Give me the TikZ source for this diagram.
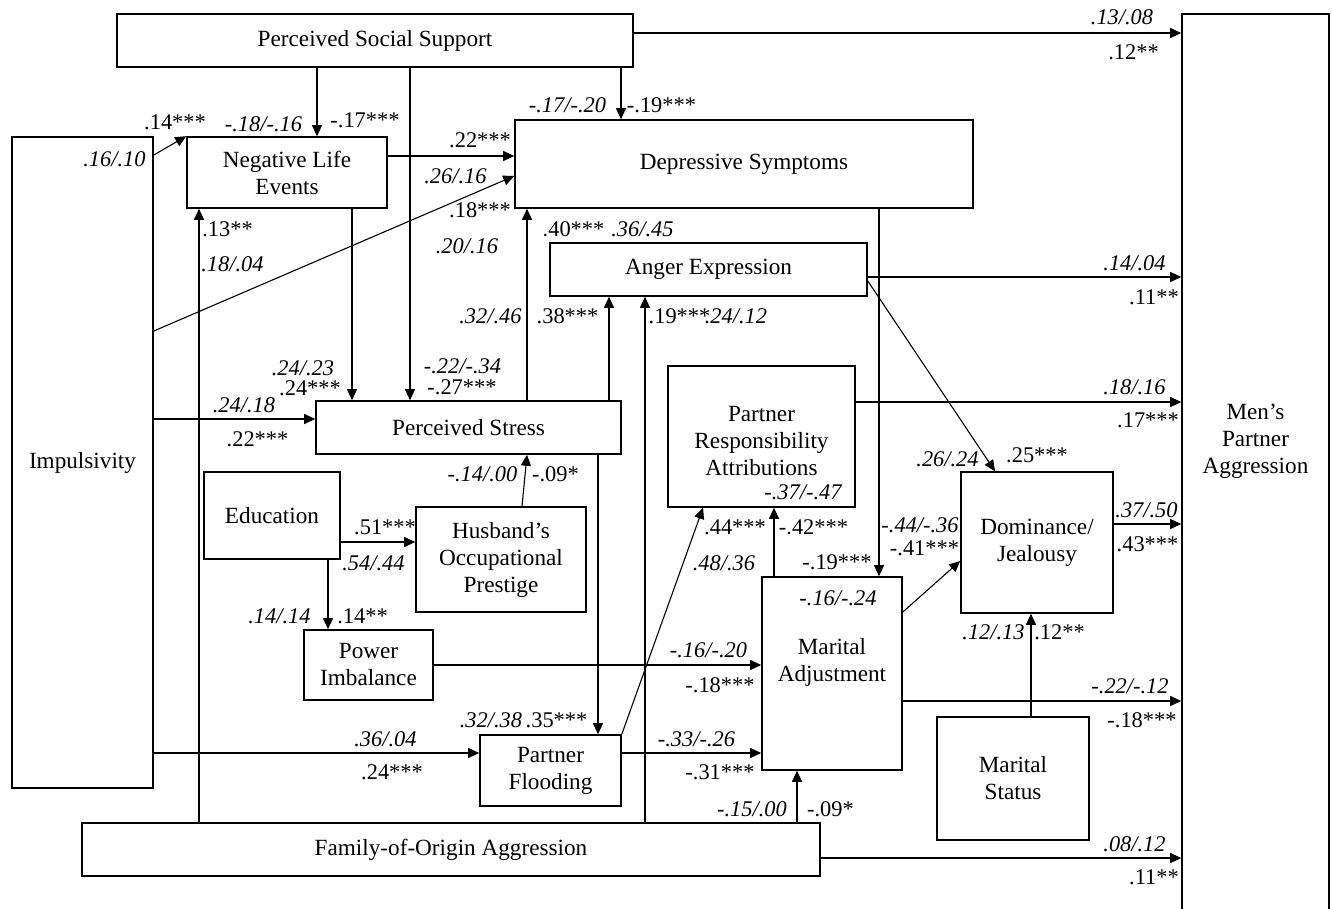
\documentclass[tikz,border=0pt]{standalone}
\usepackage{fontspec}
\setmainfont{Liberation Serif}
\usetikzlibrary{arrows.meta}
\tikzset{
    box/.style={draw, line width=0.8pt, inner sep=0pt, align=center, font=\fontsize{11.6}{13.5}\selectfont},
    boxtext/.style={inner sep=0pt, align=center, font=\fontsize{11.6}{13.5}\selectfont},
    coef/.style={inner sep=0pt, font=\fontsize{11.2}{13}\selectfont},
    coefit/.style={inner sep=0pt, font=\fontsize{11.2}{13}\selectfont\itshape},
    link/.style={line width=0.55pt, -{Triangle[length=5.5pt,width=5pt]}}
}
\begin{document}
\begin{tikzpicture}[x=0.5pt, y=-0.5pt]
        \useasboundingbox (0,0) rectangle (1332,909);
        \node[box, minimum width=258pt, minimum height=26.5pt] (pss) at (375,40.5) {Perceived Social Support};
        \node[box, minimum width=73.5pt, minimum height=450.5pt] (mpa) at (1255.5,464.5) {};
        \node[boxtext] (mpatext) at (1255.5,441) {Men's\\Partner\\Aggression};
        \node[box, minimum width=70.5pt, minimum height=325.5pt] (imp) at (82.5,462.5) {Impulsivity};
        \node[box, minimum width=100pt, minimum height=35.5pt] (nle) at (287,172.5) {Negative Life\\Events};
        \node[box, minimum width=229pt, minimum height=44pt] (dep) at (744,164) {Depressive Symptoms};
        \node[box, minimum width=158.5pt, minimum height=26.5pt] (ang) at (708.5,269.5) {Anger Expression};
        \node[box, minimum width=152.5pt, minimum height=26.5pt] (pst) at (468.5,427.5) {Perceived Stress};
        \node[box, minimum width=68pt, minimum height=43.5pt] (edu) at (272,515.5) {Education};
        \node[box, minimum width=85pt, minimum height=52.5pt] (hop) at (501,559.5) {Husband's\\Occupational\\Prestige};
        \node[box, minimum width=64.5pt, minimum height=35pt] (pow) at (368.5,665) {Power\\Imbalance};
        \node[box, minimum width=70.5pt, minimum height=35.5pt] (flo) at (550.5,770.5) {Partner\\Flooding};
        \node[box, minimum width=369pt, minimum height=26.5pt] (foa) at (451,849.5) {Family-of-Origin Aggression};
        \node[box, minimum width=93.5pt, minimum height=70.5pt] (pra) at (761.5,436.5) {};
        \node[boxtext] (pratext) at (761.5,441) {Partner\\Responsibility\\Attributions};
        \node[box, minimum width=70pt, minimum height=96.5pt] (mad) at (832,673.5) {};
        \node[boxtext] (madtext) at (832,662.5) {Marital\\Adjustment};
        \node[box, minimum width=76pt, minimum height=70.5pt] (dom) at (1037,542.5) {Dominance/\\Jealousy};
        \node[box, minimum width=76pt, minimum height=61.5pt] (mst) at (1013,778.5) {Marital\\Status};

        \draw[link] (pss.east |- 0,33) -- (mpa.west |- 0,33);
        \draw[link] (pss.south -| 317,0) -- (nle.north -| 317,0);
        \draw[link] (pss.south -| 410,0) -- (pst.north -| 410,0);
        \draw[link] (pss.south -| 621,0) -- (dep.north -| 621,0);
        \draw[link] (imp.east |- 0,155) -- (nle.north west);
        \draw[link] (nle.east |- 0,156) -- (dep.west |- 0,156);
        \draw[link] (imp.east |- 0,331) -- (dep.west |- 0,176);
        \draw[link] (nle.south -| 352,0) -- (pst.north -| 352,0);
        \draw[link] (imp.east |- 0,419) -- (pst.west |- 0,419);
        \draw[link] (foa.north -| 199,0) -- (nle.south -| 199,0);
        \draw[link] (pst.north -| 527,0) -- (dep.south -| 527,0);
        \draw[link] (pst.north -| 609,0) -- (ang.south -| 609,0);
        \draw[link] (foa.north -| 645,0) -- (ang.south -| 645,0);
        \draw[link] (ang.east |- 0,277) -- (mpa.west |- 0,277);
        \draw[link] (ang.east |- 0,281) -- (dom.north -| 995,0);
        \draw[link] (dep.south -| 879,0) -- (mad.north -| 879,0);
        \draw[link] (pra.east |- 0,402) -- (mpa.west |- 0,402);
        \draw[link] (hop.north -| 522,0) -- (pst.south -| 527,0);
        \draw[link] (edu.east |- 0,542) -- (hop.west |- 0,542);
        \draw[link] (edu.south -| 328,0) -- (pow.north -| 328,0);
        \draw[link] (pow.east |- 0,665) -- (mad.west |- 0,665);
        \draw[link] (pst.south -| 598,0) -- (flo.north -| 598,0);
        \draw[link] (imp.east |- 0,753) -- (flo.west |- 0,753);
        \draw[link] (flo.north east) -- (pra.south -| 703,0);
        \draw[link] (flo.east |- 0,753) -- (mad.west |- 0,753);
        \draw[link] (mad.north -| 774,0) -- (pra.south -| 774,0);
        \draw[link] (mad.east |- 0,612) -- (dom.west |- 0,561);
        \draw[link] (foa.north -| 797,0) -- (mad.south -| 797,0);
        \draw[link] (mad.east |- 0,701) -- (mpa.west |- 0,701);
        \draw[link] (mst.north -| 1031,0) -- (dom.south -| 1031,0);
        \draw[link] (dom.east |- 0,524) -- (mpa.west |- 0,524);
        \draw[link] (foa.east |- 0,858) -- (mpa.west |- 0,858);

        \node[coefit] (w1) at (1122,17) {.13/.08};
        \node[coef] (w2) at (1133.5,52.5) {.12**};
        \node[coefit] (w3) at (263.5,124.5) {-.18/-.16};
        \node[coef] (w4) at (365,120.5) {-.17***};
        \node[coef] (w5) at (175,122) {.14***};
        \node[coefit] (w6) at (114.5,159) {.16/.10};
        \node[coefit] (w7) at (567.5,105.5) {-.17/-.20};
        \node[coef] (w8) at (661.5,105.5) {-.19***};
        \node[coef] (w9) at (480,140.5) {.22***};
        \node[coefit] (w10) at (455.5,176.5) {.26/.16};
        \node[coef] (w11) at (480,210) {.18***};
        \node[coefit] (w12) at (467,246.5) {.20/.16};
        \node[coef] (w13) at (573.5,229) {.40***};
        \node[coefit] (w14) at (642.5,229) {.36/.45};
        \node[coef] (w15) at (227.5,229) {.13**};
        \node[coefit] (w16) at (232.5,264.5) {.18/.04};
        \node[coefit] (w17) at (490.5,316.5) {.32/.46};
        \node[coef] (w18) at (567.5,316.5) {.38***};
        \node[coef] (w19) at (679.5,316.5) {.19***};
        \node[coefit] (w20) at (736,316.5) {.24/.12};
        \node[coefit] (w21) at (1134.5,263) {.14/.04};
        \node[coef] (w22) at (1154,297) {.11**};
        \node[coefit] (w23) at (303,368.5) {.24/.23};
        \node[coef] (w24) at (310,388) {.24***};
        \node[coefit] (w25) at (462.5,366) {-.22/-.34};
        \node[coef] (w26) at (462,387.5) {-.27***};
        \node[coefit] (w27) at (244,405) {.24/.18};
        \node[coef] (w28) at (257.5,439.5) {.22***};
        \node[coefit] (w29) at (1134.5,387.5) {.18/.16};
        \node[coef] (w30) at (1148,420.5) {.17***};
        \node[coefit] (w31) at (947.5,459) {.26/.24};
        \node[coef] (w32) at (1037,455.5) {.25***};
        \node[coefit] (w33) at (482.5,474.5) {-.14/.00};
        \node[coef] (w34) at (555.5,474.5) {-.09*};
        \node[coefit] (w35) at (803,492.5) {-.37/-.47};
        \node[coef] (w36) at (385,527.5) {.51***};
        \node[coefit] (w37) at (373.5,563.5) {.54/.44};
        \node[coef] (w38) at (735,527.5) {.44***};
        \node[coef] (w39) at (813.5,527.5) {-.42***};
        \node[coefit] (w40) at (920,525) {-.44/-.36};
        \node[coef] (w41) at (924.5,548) {-.41***};
        \node[coef] (w42) at (1147.5,544.5) {.43***};
        \node[coefit] (w43) at (1146.5,510) {.37/.50};
        \node[coefit] (w44) at (724,563.5) {.48/.36};
        \node[coef] (w45) at (837,562.5) {-.19***};
        \node[coefit] (w46) at (838,598.5) {-.16/-.24};
        \node[coefit] (w47) at (279.5,616) {.14/.14};
        \node[coef] (w48) at (362.5,616) {.14**};
        \node[coefit] (w49) at (993.5,632.5) {.12/.13};
        \node[coef] (w50) at (1059.5,632.5) {.12**};
        \node[coefit] (w51) at (708.5,650.5) {-.16/-.20};
        \node[coef] (w52) at (720,685.5) {-.18***};
        \node[coefit] (w53) at (1130,686.5) {-.22/-.12};
        \node[coef] (w54) at (1142,720.5) {-.18***};
        \node[coefit] (w55) at (491,720.5) {.32/.38};
        \node[coef] (w56) at (556.5,720.5) {.35***};
        \node[coefit] (w57) at (385.5,739.5) {.36/.04};
        \node[coef] (w58) at (392,772.5) {.24***};
        \node[coefit] (w59) at (696.5,739) {-.33/-.26};
        \node[coef] (w60) at (720,772.5) {-.31***};
        \node[coefit] (w61) at (752,809) {-.15/.00};
        \node[coef] (w62) at (830.5,809) {-.09*};
        \node[coefit] (w63) at (1134.5,844.5) {.08/.12};
        \node[coef] (w64) at (1154,877.5) {.11**};
\end{tikzpicture}
\end{document}
